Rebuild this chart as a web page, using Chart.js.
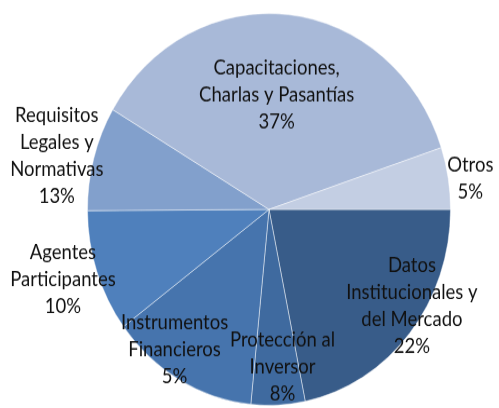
<!DOCTYPE html>
<html>
<head>
<meta charset="utf-8">
<script src="https://cdn.jsdelivr.net/npm/chart.js@4"></script>
<style>
  html, body { margin: 0; padding: 0; background: #fff; height: 408px; overflow: hidden; }
  #frame { width: 499px; height: 408px; position: relative; }
  /* the original pie is a bit taller than wide, so stretch the whole drawing */
  #wrap { position: absolute; left: 0; top: 0; width: 499px; height: 378px; transform: scaleY(1.0794); transform-origin: 0 0; }
</style>
</head>
<body>
<div id="frame"><div id="wrap"><canvas id="myChart" width="499" height="378"></canvas></div></div>
<script>
// slices clockwise from 3 o'clock
const categories = [
  ['Datos', 'Institucionales y', 'del Mercado'],
  ['Protección al', 'Inversor'],
  ['Instrumentos', 'Financieros'],
  ['Agentes', 'Participantes'],
  ['Requisitos', 'Legales y', 'Normativas'],
  ['Capacitaciones,', 'Charlas y Pasantías'],
  ['Otros']
]
// slice sizes as drawn
const values = [21.8, 4.8, 13.2, 10.1, 8.6, 36.4, 5.1]
// percentages as printed on the chart
const percentLabels = ['22%', '8%', '5%', '10%', '13%', '37%', '5%']

const colors = ['#385C89', '#3F6A9F', '#4674AD', '#4F80BC', '#82A0CC', '#A8B9D8', '#C3CEE3']

// where each label sits: fraction of the radius and a small turn (degrees) off the slice middle
const labelRadius = [0.93, 0.81, 0.885, 1.19, 1.2, 0.586, 1.12]
const labelTurn = [-7.1, -2.4, 6.5, 1.1, -2.1, -2, 1.2]

const sliceLabels = {
  id: 'sliceLabels',
  afterDatasetsDraw(chart) {
    const ctx = chart.ctx
    const arcs = chart.getDatasetMeta(0).data
    ctx.save()
    ctx.font = '18.5px Lato'
    ctx.fillStyle = '#111'
    ctx.textAlign = 'center'
    ctx.textBaseline = 'middle'
    arcs.forEach((arc, i) => {
      const mid = (arc.startAngle + arc.endAngle) / 2 + labelTurn[i] * Math.PI / 180
      const r = arc.outerRadius * labelRadius[i]
      const x = arc.x + Math.cos(mid) * r
      const y = arc.y + Math.sin(mid) * r
      const lines = categories[i].concat(percentLabels[i])
      lines.forEach((t, k) => {
        ctx.fillText(t, x, y + (k - (lines.length - 1) / 2) * 25)
      })
    })
    ctx.restore()
  }
}

const canvas = document.getElementById('myChart')
new Chart(canvas, {
  type: 'pie',
  data: {
    labels: categories.map(c => c.join(' ')),
    datasets: [{
      data: values,
      backgroundColor: colors,
      borderColor: 'rgba(255,255,255,0.45)',
      borderWidth: 1
    }]
  },
  options: {
    responsive: false,
    animation: false,
    rotation: 90,
    layout: { padding: { left: 87, right: 48, top: 12, bottom: 2 } },
    plugins: {
      legend: { display: false },
      tooltip: { enabled: false }
    }
  },
  plugins: [sliceLabels]
})
</script>
</body>
</html>
